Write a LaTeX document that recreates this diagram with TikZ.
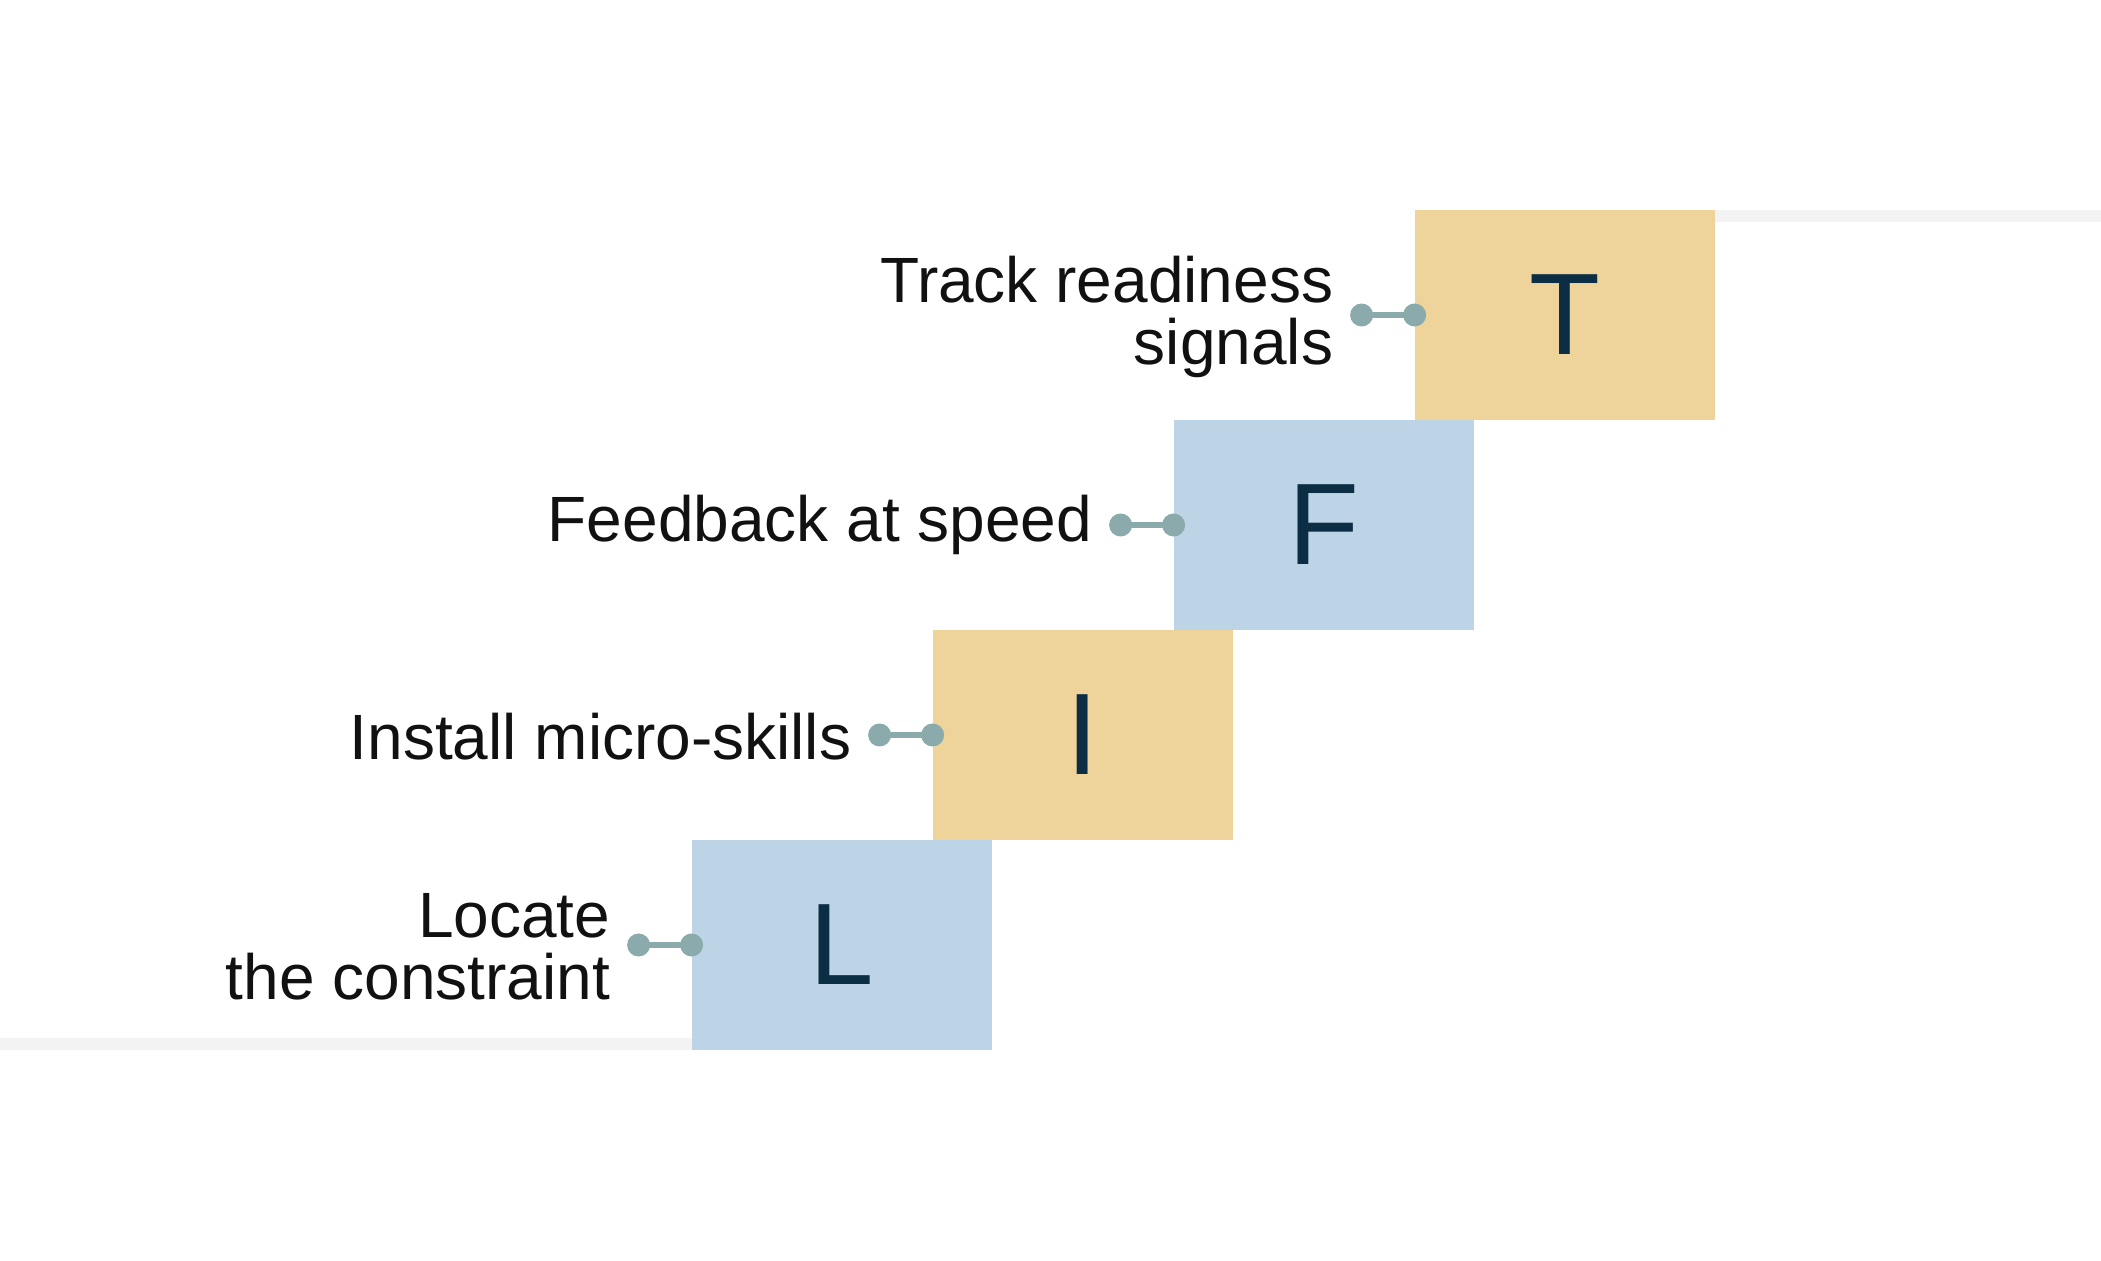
\documentclass[tikz,border=0pt]{standalone}
\usepackage{fontspec}
\setmainfont{Liberation Sans}
\definecolor{boxblue}{RGB}{189,212,230}
\definecolor{boxtan}{RGB}{238,212,155}
\definecolor{conncol}{RGB}{138,170,172}
\definecolor{letcol}{RGB}{11,46,69}
\definecolor{railcol}{RGB}{243,243,243}
\definecolor{txtcol}{RGB}{17,17,17}
\tikzset{
  stepbox/.style={rectangle, draw=none, minimum width=150pt, minimum height=105pt, inner sep=0pt,
    font=\fontsize{58}{58}\selectfont, text=letcol},
  dotnode/.style={circle, fill=conncol, minimum size=11.5pt, inner sep=0pt},
  conn/.style={draw=conncol, line width=3pt},
  lbl/.style={anchor=east, align=right, inner sep=0pt, text=txtcol, font=\fontsize{32}{31}\selectfont},
  rail/.style={fill=railcol, draw=none}
}
\begin{document}
\begin{tikzpicture}[x=0.5pt,y=-0.5pt]
\useasboundingbox (0,0) rectangle (2101,1261);
% rails
\fill[rail] (0,1038) rectangle (692,1050);
\fill[rail] (1715,210) rectangle (2101,222);
% boxes
\node[stepbox, fill=boxblue] (L) at (842,945) {L};
\node[stepbox, fill=boxtan] (I) at (1083,735) {I};
\node[stepbox, fill=boxblue] (F) at (1324,525) {F};
\node[stepbox, fill=boxtan] (T) at (1565,315) {T};
% connectors
\foreach \b in {L,I,F,T}{
  \node[dotnode] (\b e) at (\b.west) {};
  \node[dotnode] (\b s) at ([xshift=-26.5pt]\b.west) {};
  \draw[conn] (\b s.center) -- (\b e.center);
}
% labels
\node[lbl] (Llab) at ([xshift=-14pt,yshift=-1pt]Ls.center) {Locate\\the constraint};
\node[lbl] (Ilab) at ([xshift=-14pt,yshift=-1pt]Is.center) {Install micro-skills};
\node[lbl] (Flab) at ([xshift=-14pt,yshift=0pt]Fs.center) {Feedback at speed};
\node[lbl] (Tlab) at ([xshift=-14pt,yshift=-1pt]Ts.center) {Track readiness\\signals};
\end{tikzpicture}
\end{document}
